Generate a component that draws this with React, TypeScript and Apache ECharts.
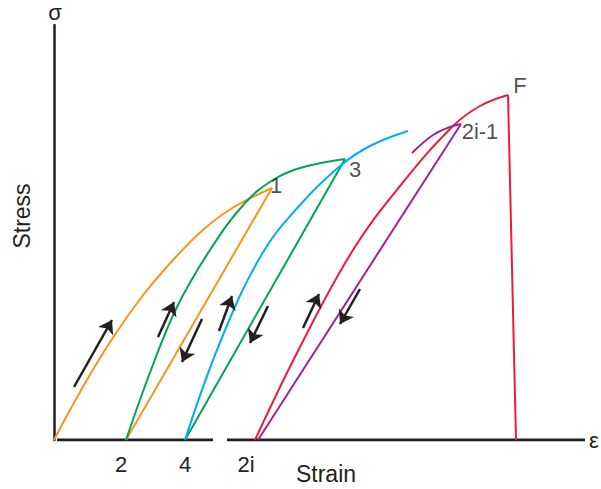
import React, { useEffect, useRef } from "react";
import * as echarts from "echarts";

// Data in schematic units (strain along x, stress along y)
const orangeLoad: number[][] = [[0, 0], [30, 55], [60, 104], [90, 146], [120, 181], [150, 211], [180, 233], [218, 252]];
const orangeUnload: number[][] = [[218, 252], [72, 0]];
const greenLoad: number[][] = [[72, 0], [97, 70], [123, 133], [156, 190], [191, 237], [219, 260], [246, 272], [291, 281]];
const greenUnload: number[][] = [[291, 281], [131, 0]];
const blueLoad: number[][] = [[131, 0], [167, 100], [208, 186], [246, 235], [286, 274], [316, 294], [354, 309]];
const redLoad: number[][] = [[201, 0], [246, 93], [299, 190], [346, 254], [399, 314], [426, 334], [454, 345]];
const redDrop: number[][] = [[454, 345], [462, 0]];
const purpleHook: number[][] = [[358, 287], [379, 305], [396, 313], [407, 316]];
const purpleUnload: number[][] = [[407, 316], [204, 0]];

const axisSegA: number[][] = [[3, 0], [159, 0]];
const axisSegB: number[][] = [[173, 0], [531, 0]];

const arrows: number[][][] = [
  [[20, 53], [58, 120]],
  [[104, 103], [120, 138]],
  [[148, 121], [128, 78]],
  [[165, 109], [178, 144]],
  [[214, 134], [196, 97]],
  [[249, 112], [265, 146]],
  [[306, 151], [286, 116]],
];

const pointNames = ["1", "3", "2i-1", "F"];
const pointPos: number[][] = [[222, 255], [301, 271], [426, 309], [466, 355]];

const tickValues = [67, 131, 192];
const tickLabels = ["2", "4", "2i"];

const FONT = "'Liberation Sans', Arial, sans-serif";
const INK = "#231f20";

export default function App() {
  const ref = useRef<HTMLDivElement>(null);
  useEffect(() => {
    if (!ref.current) return;
    const chart = echarts.init(ref.current, undefined, { renderer: "svg" });
    const curve = (data: number[][], color: string, smooth: boolean | number) => ({
      type: "line",
      data,
      smooth,
      showSymbol: false,
      symbol: "none",
      lineStyle: { color, width: 2 },
      silent: true,
      z: 3,
    });
    chart.setOption({
      animation: false,
      grid: { left: 54, right: 16, top: 25, bottom: 49 },
      xAxis: {
        type: "value",
        min: 0,
        max: 531,
        axisLine: { show: false },
        axisTick: { show: false },
        splitLine: { show: false },
        axisLabel: {
          customValues: tickValues,
          formatter: (v: number) => tickLabels[tickValues.indexOf(v)] ?? "",
          fontSize: 22,
          fontFamily: FONT,
          color: INK,
          margin: 13,
        },
      },
      yAxis: {
        type: "value",
        min: 0,
        max: 415,
        axisLine: { show: true, lineStyle: { color: INK, width: 2.5 } },
        axisTick: { show: false },
        axisLabel: { show: false },
        splitLine: { show: false },
      },
      graphic: [
        { type: "text", x: 55, y: 12, style: { text: "σ", font: `22px ${FONT}`, fill: INK, textAlign: "center", textVerticalAlign: "middle" } },
        { type: "text", x: 589, y: 440, style: { text: "ε", font: `22px ${FONT}`, fill: INK, textAlign: "left", textVerticalAlign: "middle" } },
        { type: "text", x: 22, y: 216, rotation: Math.PI / 2, style: { text: "Stress", font: `23px ${FONT}`, fill: INK, textAlign: "center", textVerticalAlign: "middle" } },
        { type: "text", x: 326, y: 474, style: { text: "Strain", font: `23px ${FONT}`, fill: INK, textAlign: "center", textVerticalAlign: "middle" } },
      ],
      series: [
        { ...curve(axisSegA, INK, false), lineStyle: { color: INK, width: 3 }, z: 2 },
        { ...curve(axisSegB, INK, false), lineStyle: { color: INK, width: 3 }, z: 2 },
        curve(orangeLoad, "#F7941D", 0.4),
        curve(orangeUnload, "#F7941D", false),
        curve(greenLoad, "#00A651", 0.4),
        curve(greenUnload, "#00A651", false),
        curve(blueLoad, "#00AEEF", 0.4),
        curve(redLoad, "#ED1C3A", 0.4),
        curve(redDrop, "#ED1C3A", false),
        curve(purpleHook, "#A4218F", 0.4),
        curve(purpleUnload, "#A4218F", false),
        {
          type: "lines",
          coordinateSystem: "cartesian2d",
          data: arrows.map((c) => ({ coords: c })),
          symbol: ["none", "arrow"],
          symbolSize: 13,
          lineStyle: { color: INK, width: 2.5, opacity: 1 },
          silent: true,
          z: 4,
        },
        {
          type: "scatter",
          data: pointPos.map((p, i) => ({ value: p, name: pointNames[i] })),
          symbolSize: 0,
          clip: false,
          silent: true,
          label: {
            show: true,
            position: "inside",
            formatter: (p: any) => p.name,
            fontSize: 22,
            fontFamily: FONT,
            color: INK,
          },
          z: 5,
        },
      ],
    });
    return () => chart.dispose();
  }, []);
  return (
    <div
      ref={ref}
      style={{ position: "fixed", left: 0, top: 0, width: 601, height: 489, background: "#fff" }}
    />
  );
}
